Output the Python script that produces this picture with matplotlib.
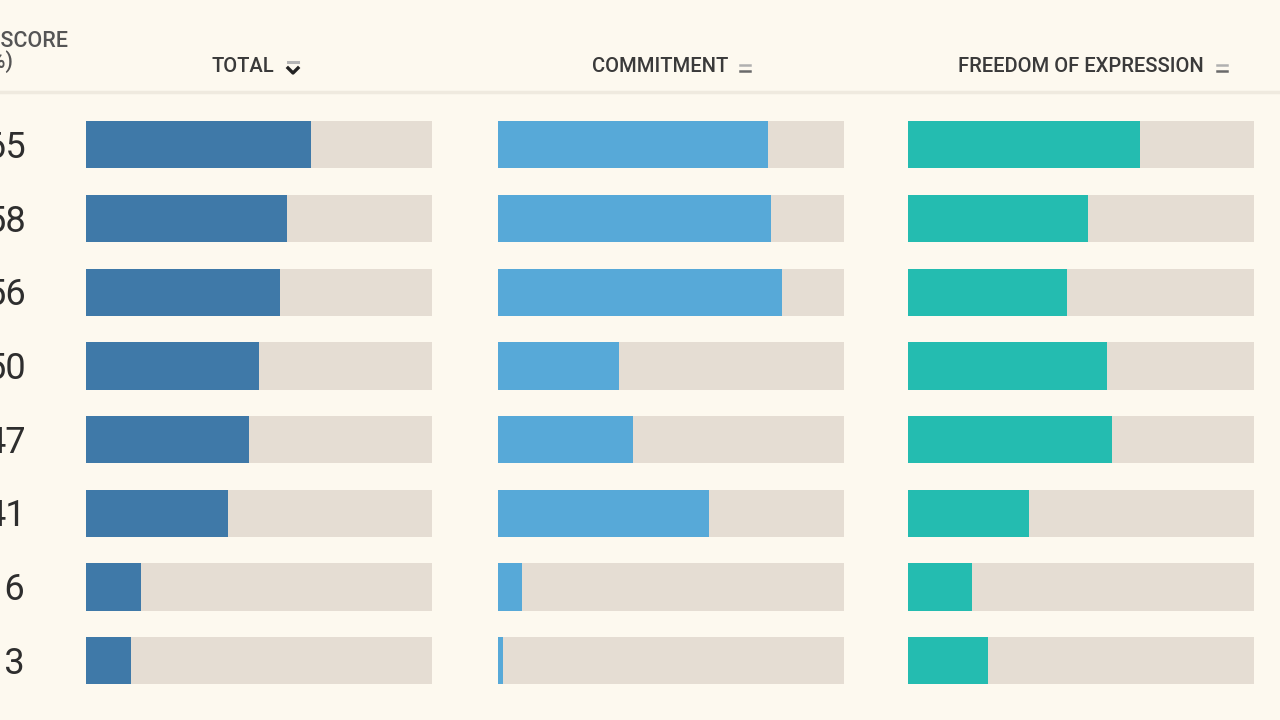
import matplotlib
matplotlib.use("Agg")
import matplotlib.pyplot as plt
import numpy as np

# ---- data ----
total_scores = [65, 58, 56, 50, 47, 41, 16, 13]
commitment = [78, 79, 82, 35, 39, 61, 7, 1.5]
freedom = [67, 52, 46, 57.5, 59, 35, 18.5, 23]
column_titles = ["TOTAL", "COMMITMENT", "FREEDOM OF EXPRESSION"]
score_header = "TOTAL SCORE\n(%)"
colors = ["#3f79a8", "#57a9d8", "#24bcb0"]
track_color = "#e5ddd3"
bg = "#fdf9ef"

W, H = 1280, 720
fig = plt.figure(figsize=(12.8, 7.2), dpi=100, facecolor=bg)

panels = [total_scores, commitment, freedom]
lefts = [86, 498, 908]
pw = 346
top_px, row_px = 108, 73.7
n = len(total_scores)
bottom_px = top_px + n * row_px
y = np.arange(n)

for vals, left, col in zip(panels, lefts, colors):
    ax = fig.add_axes([left / W, 1 - bottom_px / H, pw / W, (bottom_px - top_px) / H])
    ax.set_facecolor("none")
    ax.barh(y, [100] * n, height=0.64, color=track_color, linewidth=0)
    ax.barh(y, vals, height=0.64, color=col, linewidth=0)
    ax.set_xlim(0, 100)
    ax.set_ylim(n - 0.5, -0.5)
    ax.axis("off")

# score numbers (cut at left edge, as in the reference)
for i, v in enumerate(total_scores):
    yc = top_px + (i + 0.5) * row_px + 3
    fig.text(26 / W, 1 - yc / H, str(v), ha="right", va="center",
             fontsize=26, color="#2e2e2e", family="Roboto")

# header
fig.text(-2 / W, 1 - 52 / H, score_header, ha="center", va="center",
         fontsize=15.5, color="#555555", fontweight="medium", linespacing=0.95,
         multialignment="center", family="Roboto")

title_right = [274, 728, 1204]
for t, xr in zip(column_titles, title_right):
    fig.text(xr / W, 1 - 67 / H, t, ha="right", va="center", fontsize=14.5,
             color="#3a3a3a", family="Roboto", fontweight="medium")

# sort icons
def hline(x0, x1, yy, color, lw):
    fig.add_artist(plt.Line2D([x0 / W, x1 / W], [1 - yy / H, 1 - yy / H],
                              color=color, linewidth=lw, transform=fig.transFigure))

hline(288, 298, 62, "#b5b5b5", 2.2)
fig.add_artist(plt.Line2D([288 / W, 293 / W, 298 / W],
                          [1 - 68 / H, 1 - 73 / H, 1 - 68 / H],
                          color="#222222", linewidth=2.4, transform=fig.transFigure))
for xi in [745, 1222]:
    hline(xi - 5, xi + 5, 65, "#b0b0b0", 1.8)
    hline(xi - 5, xi + 5, 71, "#6a6a6a", 1.8)

# header separator line
hline(0, W, 92, "#efeadf", 2.5)

fig.savefig("out.png", dpi=100, facecolor=bg)
